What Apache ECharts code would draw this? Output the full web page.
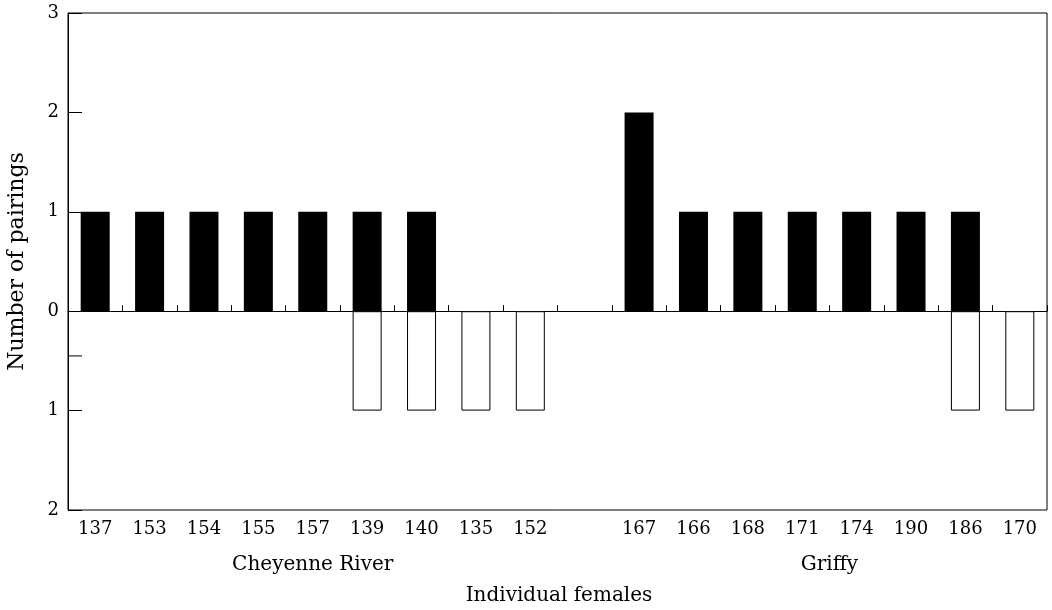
<!DOCTYPE html>
<html>
<head>
<meta charset="utf-8">
<script src="https://cdn.jsdelivr.net/npm/echarts@6/dist/echarts.min.js"></script>
<style>
  html, body { margin: 0; padding: 0; background: #fff; }
  #chart { width: 1052px; height: 610px; }
</style>
</head>
<body>
<div id="chart"></div>
<script>
// individual females, '' is the spacer between the two sites
const females = ['137', '153', '154', '155', '157', '139', '140', '135', '152', '',
  '167', '166', '168', '171', '174', '190', '186', '170'];
// pairings above the line (black) and below it (white)
const blackPairs = [1, 1, 1, 1, 1, 1, 1, 0, 0, 0, 2, 1, 1, 1, 1, 1, 1, 0];
const whitePairs = [0, 0, 0, 0, 0, 1, 1, 1, 1, 0, 0, 0, 0, 0, 0, 0, 1, 1];
const yTicks = [-2, -1, 0, 1, 2, 3];
const sites = [
  { name: 'Cheyenne River', from: 0, to: 8 },
  { name: 'Griffy', from: 10, to: 17 }
];

const font = 'DejaVu Serif';
const chart = echarts.init(document.getElementById('chart'));

const option = {
  animation: false,
  textStyle: { fontFamily: font, color: '#000' },
  grid: {
    left: 68, right: 5, top: 13, bottom: 100,
    containLabel: false, outerBoundsMode: 'none',
    show: true, borderColor: '#000', borderWidth: 1, backgroundColor: 'transparent'
  },
  xAxis: [
    {
      type: 'category',
      data: females,
      axisLine: { onZero: true, lineStyle: { color: '#000', width: 1 } },
      axisTick: { show: true, inside: true, length: 6, alignWithLabel: false, lineStyle: { color: '#000' } },
      axisLabel: { show: false }
    },
    {
      type: 'category',
      data: females,
      position: 'bottom',
      axisLine: { show: false, onZero: false },
      axisTick: { show: false },
      axisLabel: { color: '#000', fontFamily: font, fontSize: 18, margin: 10 }
    }
  ],
  yAxis: {
    type: 'value',
    min: yTicks[0],
    max: yTicks[yTicks.length - 1],
    interval: 1,
    name: 'Number of pairings',
    nameLocation: 'middle',
    nameGap: 40,
    nameTextStyle: { color: '#000', fontFamily: font, fontSize: 22 },
    axisLine: { show: true, lineStyle: { color: '#000' } },
    axisTick: { show: true, inside: true, length: 14, lineStyle: { color: '#000' } },
    axisLabel: {
      color: '#000', fontFamily: font, fontSize: 18, margin: 9,
      formatter: v => String(Math.abs(v))
    },
    splitLine: { show: false }
  },
  series: [
    {
      type: 'bar',
      data: blackPairs.map(v => (v ? v : '-')),
      barWidth: 29,
      barGap: '-100%',
      itemStyle: { color: '#000' }
    },
    {
      type: 'bar',
      data: whitePairs.map(v => (v ? -v : '-')),
      barWidth: 29,
      itemStyle: { color: '#fff', borderColor: '#000', borderWidth: 1 }
    }
  ]
};
chart.setOption(option);

// site names under the labels, plus the axis title and the lone half tick
const titleFont = '20px "' + font + '"';
const graphics = sites.map(s => {
  const a = chart.convertToPixel({ xAxisIndex: 0 }, s.from);
  const b = chart.convertToPixel({ xAxisIndex: 0 }, s.to);
  return {
    type: 'text',
    x: (a + b) / 2, y: 565,
    style: { text: s.name, font: titleFont, fill: '#000', align: 'center', verticalAlign: 'middle' }
  };
});
graphics.push({
  type: 'text', x: 559, y: 596,
  style: { text: 'Individual females', font: titleFont, fill: '#000', align: 'center', verticalAlign: 'middle' }
});
const halfY = chart.convertToPixel({ yAxisIndex: 0 }, -0.45);
graphics.push({
  type: 'line',
  shape: { x1: 68, y1: halfY, x2: 82, y2: halfY },
  style: { stroke: '#000', lineWidth: 1 }
});
chart.setOption({ graphic: graphics });

window.addEventListener('resize', () => chart.resize());
</script>
</body>
</html>
